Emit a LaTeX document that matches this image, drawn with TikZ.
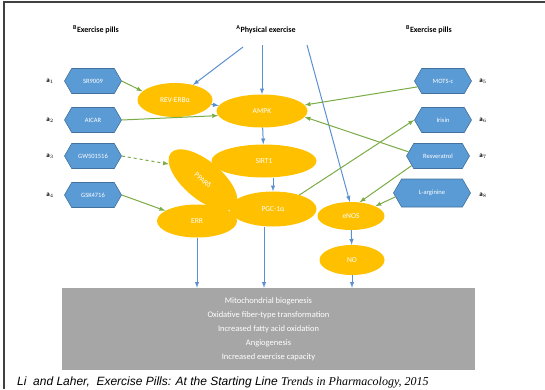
\documentclass[tikz,border=0pt]{standalone}
\usepackage{fontspec}
\setmainfont{Carlito}
\newfontfamily\capsans{Liberation Sans}
\newfontfamily\capserif{Liberation Serif}
\usepackage{tikz}
\usetikzlibrary{shapes.symbols,shapes.geometric,arrows}
\definecolor{pillblue}{HTML}{5B9BD5}
\definecolor{pillrim}{HTML}{41719C}
\definecolor{ellgold}{HTML}{FFC000}
\definecolor{arrblue}{HTML}{5B8FD0}
\definecolor{arrgreen}{HTML}{7AAB45}
\definecolor{boxgray}{HTML}{A6A6A6}
\tikzset{
  pill/.style={signal, signal to=west and east, signal pointer angle=120, fill=pillblue, draw=pillrim,
               line width=0.6pt, text=white, font=\fontsize{6.5}{7}\selectfont,
               minimum width=57pt, minimum height=25pt, inner sep=1pt},
  ell/.style={ellipse, fill=ellgold, text=white, font=\fontsize{7.5}{9}\selectfont, inner sep=0pt},
  blu/.style={draw=arrblue, line width=1pt, -latex},
  grn/.style={draw=arrgreen, line width=1pt, -latex},
  lbl/.style={font=\bfseries\fontsize{7}{8}\selectfont},
  head/.style={font=\bfseries\fontsize{8}{9}\selectfont}
}

\begin{document}
\begin{tikzpicture}[x=1pt,y=-1pt]
        \useasboundingbox (0,0) rectangle (545,389);
        \draw[line width=1.5pt, black!75] (4,389) |- (545,2);

        % headers
        \node[head] (hl) at (96,30) {\textsuperscript{B}Exercise pills};
        \node[head] (pe) at (266,30) {\textsuperscript{A}Physical exercise};
        \node[head] (hr) at (429,30) {\textsuperscript{B}Exercise pills};
        \coordinate (pe1) at (243,47);
        \coordinate (pe2) at (262,45);
        \coordinate (pe3) at (307,45);

        % pills left
        \node[pill] (sr)  at (93,81)  {SR9009};
        \node[pill] (aic) at (93,120) {AICAR};
        \node[pill] (gw)  at (93,156) {GW501516};
        \node[pill] (gsk) at (93,195) {GSK4716};
        \node[lbl] at (50,81)  {a$_1$};
        \node[lbl] at (50,120) {a$_2$};
        \node[lbl] at (50,156) {a$_3$};
        \node[lbl] at (50,195) {a$_4$};

        % pills right
        \node[pill] (mots) at (443,81)  {MOTS-c};
        \node[pill] (iri)  at (443,120) {Irisin};
        \node[pill, minimum width=63pt] (res) at (438,156) {Resveratrol};
        \node[pill, minimum width=77pt, minimum height=28pt] (larg) at (432,193) {L-arginine};
        \node[lbl] at (483,81)  {a$_5$};
        \node[lbl] at (483,120) {a$_6$};
        \node[lbl] at (483,156) {a$_7$};
        \node[lbl] at (483,195) {a$_8$};

        % targets
        \node[ell, minimum width=75pt, minimum height=34pt] (rev) at (175,100) {REV-ERBα};
        \node[ell, minimum width=91pt, minimum height=33pt] (amp) at (262,111) {AMPK};
        \node[ell, minimum width=105pt, minimum height=33pt] (sirt) at (264,161) {SIRT1};
        \node[ell, minimum width=84pt, minimum height=38pt, rotate=-40] (pp) at (203,180) {PPARδ};
        \node[ell, minimum width=80pt, minimum height=33pt] (err) at (197,221) {ERR};
        \node[ell, minimum width=87pt, minimum height=35pt] (pgc) at (273,209) {PGC-1α};
        \node[ell, minimum width=67pt, minimum height=28pt] (enos) at (351,216) {eNOS};
        \node[ell, minimum width=65pt, minimum height=30pt] (no) at (352,260) {NO};

        \node[fill=boxgray, minimum width=413pt, minimum height=82pt, text=white, align=center,
              font=\fontsize{8.5}{14}\selectfont] (out) at (268.5,329)
              {Mitochondrial biogenesis\\Oxidative fiber-type transformation\\Increased fatty acid oxidation\\
               Angiogenesis\\Increased exercise capacity};

        % blue arrows
        \draw[blu] (pe1) -- (rev.40);
        \draw[blu] (pe2) -- (amp.north);
        \draw[blu] (pe3) -- (enos.95);
        \draw[blu] (rev) -- (amp);
        \draw[blu] (amp) -- (sirt);
        \draw[blu] (sirt.south -| pgc) -- (pgc.north);
        \draw[blu] (pgc.south -| sirt) -- (sirt |- out.north);
        \draw[blu] (err.south) -- (err |- out.north);
        \draw[blu] (enos) -- (no);
        \draw[blu] (no) -- (out.north -| no);

        % green arrows
        \draw[grn] (sr.east) -- (rev.165);
        \draw[grn] (aic.east) -- (amp.186);
        \draw[grn, dashed] (gw.east) -- (pp.195);
        \draw[grn] (gsk.east) -- (err.162);
        \draw[grn] (mots.193) -- (amp.8);
        \draw[grn] (res.172) -- (amp.-8);
        \draw[grn] (pgc.28) -- (iri.west);
        \draw[grn] (res.200) -- (enos.58);
        \draw[grn] (larg.186) -- (enos.22);

        % caption
        \node[anchor=base west, inner sep=0pt] (cap) at (17,385)
              {\capsans\itshape\fontsize{12}{13}\selectfont Li\ \ and Laher,\ \ Exercise Pills: At the Starting Line
               \capserif\itshape Trends in Pharmacology, 2015};
\end{tikzpicture}
\end{document}
